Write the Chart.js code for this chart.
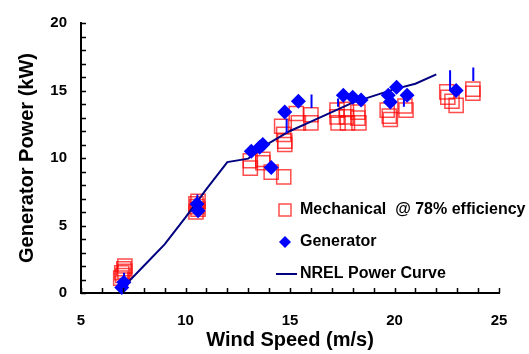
<!DOCTYPE html>
<html>
<head>
<meta charset="utf-8">
<script src="https://cdn.jsdelivr.net/npm/chart.js@4/dist/chart.umd.min.js"></script>
<style>
  html, body { margin: 0; padding: 0; background: #fff; }
  #wrap { width: 529px; height: 354px; }
</style>
</head>
<body>
<div id="wrap"><canvas id="chart"></canvas></div>
<script>
// Mechanical power @ 78% efficiency (open red squares)
const mechX = [6.9, 6.95, 7.05, 7.1, 7.0, 7.1,
  10.5, 10.55, 10.6, 10.5, 10.6,
  13.1, 13.1, 13.7, 13.7, 14.1, 14.7,
  14.6, 14.7, 14.75, 14.75, 15.3, 15.4, 16.0, 16.0,
  17.25, 17.25, 17.3, 17.7, 17.7, 17.75, 18.25, 18.25, 18.3,
  19.65, 19.75, 19.8, 20.5, 20.55,
  22.5, 22.55, 22.75, 22.95, 23.75, 23.75];
const mechY = [1.1, 1.5, 1.8, 1.6, 1.3, 2.0,
  6.6, 6.4, 6.2, 6.0, 6.8,
  9.8, 9.25, 9.9, 9.65, 8.95, 8.6,
  12.35, 11.75, 11.25, 11.0, 13.3, 12.6, 13.2, 12.6,
  13.55, 13.05, 12.6, 13.6, 13.05, 12.6, 13.4, 12.95, 12.6,
  13.55, 13.1, 12.85, 13.85, 13.55,
  14.9, 14.5, 14.2, 13.9, 15.1, 14.8];

// Generator power (blue diamonds)
const genX = [6.95, 7.05, 10.55, 10.6, 13.15, 13.55, 13.7, 14.1, 14.75, 15.4,
  17.55, 18.0, 18.4, 19.7, 19.8, 20.1, 20.6, 22.95];
const genY = [0.4, 0.8, 6.6, 6.1, 10.5, 10.8, 11.0, 9.3, 13.4, 14.2,
  14.65, 14.5, 14.3, 14.65, 14.15, 15.25, 14.65, 15.0];

// blue vertical bars (x, low, high)
const barX  = [7.06, 10.57, 14.84, 16.03, 17.3, 20.45, 22.66, 23.77];
const barLo = [0.6, 6.4, 11.85, 13.7, 13.8, 13.8, 15.0, 15.7];
const barHi = [1.5, 7.3, 12.9, 14.7, 14.4, 14.5, 16.5, 16.7];

// NREL power curve
const nrelX = [7, 8, 9, 10, 11, 12, 13, 14, 15, 16, 17, 18, 19, 20, 21, 22];
const nrelY = [0.4, 2.0, 3.6, 5.6, 7.7, 9.7, 9.95, 11.1, 12.0, 12.7, 13.4, 14.1, 14.6, 15.1, 15.5, 16.2];

const xTicks = [5, 10, 15, 20, 25];
const yTicks = [0, 5, 10, 15, 20];

const toPts = (xs, ys) => xs.map((x, i) => ({ x: x, y: ys[i] }));

// bars as one line dataset broken by gaps
const barPts = [];
barX.forEach((x, i) => {
  barPts.push({ x: x, y: barLo[i] });
  barPts.push({ x: x, y: barHi[i] });
  barPts.push({ x: x, y: null });
});

const FONT = "Arial, 'Liberation Sans', sans-serif";

// small inward tick marks on both axes
const innerTicks = {
  id: 'innerTicks',
  afterDraw(chart) {
    const ctx = chart.ctx;
    const xs = chart.scales.x, ys = chart.scales.y;
    const a = chart.chartArea;
    ctx.save();
    ctx.strokeStyle = '#000';
    ctx.lineWidth = 1.5;
    ctx.beginPath();
    for (let v = 5; v <= 25; v++) {
      const px = Math.round(xs.getPixelForValue(v)) + 0.5;
      ctx.moveTo(px, a.bottom);
      ctx.lineTo(px, a.bottom - 5);
    }
    for (let v = 0; v <= 20; v++) {
      const py = Math.round(ys.getPixelForValue(v)) + 0.5;
      ctx.moveTo(a.left, py);
      ctx.lineTo(a.left + 5, py);
    }
    ctx.stroke();
    ctx.restore();
  }
};

// legend drawn inside the plot area
const innerLegend = {
  id: 'innerLegend',
  afterDraw(chart) {
    const ctx = chart.ctx;
    const x0 = 285, rows = [210, 242, 274];
    ctx.save();
    ctx.font = 'bold 16px ' + FONT;
    ctx.textBaseline = 'middle';
    ctx.fillStyle = '#000';

    // square
    ctx.strokeStyle = 'rgba(255,0,0,0.7)';
    ctx.lineWidth = 1.5;
    ctx.strokeRect(x0 - 6, rows[0] - 6, 12, 12);
    ctx.fillText('Mechanical  @ 78% efficiency', 300, rows[0]);

    // diamond
    ctx.fillStyle = '#0000ff';
    ctx.beginPath();
    ctx.moveTo(x0, rows[1] - 6);
    ctx.lineTo(x0 + 6, rows[1]);
    ctx.lineTo(x0, rows[1] + 6);
    ctx.lineTo(x0 - 6, rows[1]);
    ctx.closePath();
    ctx.fill();
    ctx.fillStyle = '#000';
    ctx.fillText('Generator', 300, rows[1]);

    // line
    ctx.strokeStyle = '#000080';
    ctx.lineWidth = 2;
    ctx.beginPath();
    ctx.moveTo(276, rows[2]);
    ctx.lineTo(297, rows[2]);
    ctx.stroke();
    ctx.fillText('NREL Power Curve', 300, rows[2]);
    ctx.restore();
  }
};

new Chart(document.getElementById('chart'), {
  type: 'scatter',
  data: {
    datasets: [
      {
        label: 'Mechanical @ 78% efficiency',
        data: toPts(mechX, mechY),
        pointStyle: 'rect',
        pointRadius: 10,
        backgroundColor: 'rgba(0,0,0,0)',
        borderColor: 'rgba(255,0,0,0.7)',
        borderWidth: 1.5,
        order: 4,
        clip: false
      },
      {
        type: 'line',
        label: 'NREL Power Curve',
        data: toPts(nrelX, nrelY),
        borderColor: '#000080',
        borderWidth: 2,
        pointRadius: 0,
        tension: 0,
        fill: false,
        order: 3
      },
      {
        type: 'line',
        label: 'bars',
        data: barPts,
        borderColor: '#0000ff',
        borderWidth: 2,
        pointRadius: 0,
        spanGaps: false,
        fill: false,
        order: 2,
        clip: false
      },
      {
        label: 'Generator',
        data: toPts(genX, genY),
        pointStyle: 'rectRot',
        pointRadius: 7.5,
        backgroundColor: '#0000ff',
        borderColor: '#0000ff',
        borderWidth: 0,
        order: 1,
        clip: false
      }
    ]
  },
  options: {
    responsive: true,
    maintainAspectRatio: false,
    animation: false,
    events: [],
    layout: { padding: { top: 18, right: 30, left: 0, bottom: 0 } },
    plugins: {
      legend: { display: false },
      tooltip: { enabled: false }
    },
    scales: {
      x: {
        type: 'linear',
        min: 5, max: 25,
        afterFit(scale) { scale.height = 61; },
        afterBuildTicks(scale) { scale.ticks = xTicks.map(v => ({ value: v })); },
        grid: { display: false, drawTicks: false },
        border: { display: true, color: '#000', width: 2 },
        ticks: { color: '#000', padding: 19, font: { family: FONT, size: 15, weight: 'bold' } },
        title: {
          display: true, text: 'Wind Speed (m/s)', color: '#000',
          padding: { top: 0, bottom: 2 },
          font: { family: FONT, size: 20, weight: 'bold' }
        }
      },
      y: {
        type: 'linear',
        min: 0, max: 20,
        afterFit(scale) { scale.width = 81; },
        afterBuildTicks(scale) { scale.ticks = yTicks.map(v => ({ value: v })); },
        grid: { display: false, drawTicks: false },
        border: { display: true, color: '#000', width: 2 },
        ticks: { color: '#000', padding: 14, font: { family: FONT, size: 15, weight: 'bold' } },
        title: {
          display: true, text: 'Generator Power (kW)', color: '#000',
          padding: { top: 15, bottom: 0 },
          font: { family: FONT, size: 20, weight: 'bold' }
        }
      }
    }
  },
  plugins: [innerTicks, innerLegend]
});
</script>
</body>
</html>
